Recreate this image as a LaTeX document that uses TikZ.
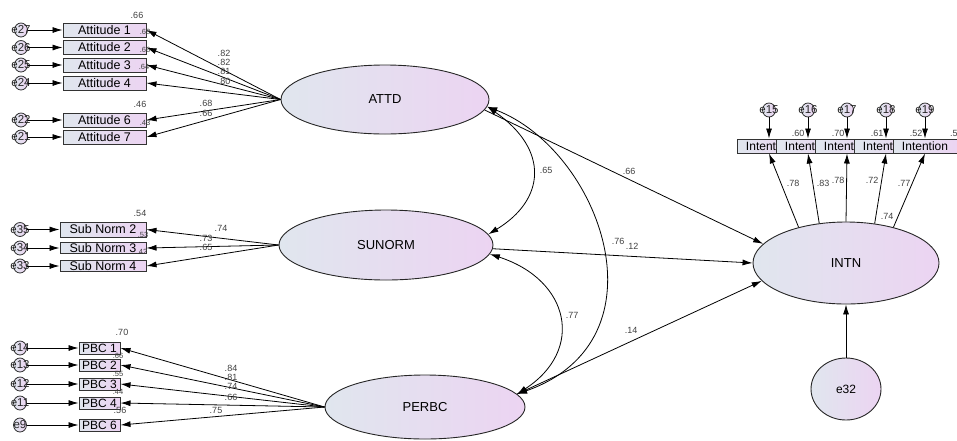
\documentclass[tikz,border=0pt]{standalone}
\usepackage{fontspec}
\setmainfont{Liberation Sans}
\usetikzlibrary{arrows.meta,shapes.geometric}
\definecolor{lc}{RGB}{224,230,238}
\definecolor{rc}{RGB}{236,212,242}
\begin{document}
\begin{tikzpicture}[x=1pt,y=-1pt,
  lat/.style={ellipse,draw=black!85,line width=0.9pt,left color=lc,right color=rc,inner sep=0pt,font=\fontsize{13}{13}\selectfont},
  obs/.style={rectangle,draw=black!80,line width=1pt,left color=lc,right color=rc,inner sep=0pt,font=\fontsize{12.5}{12}\selectfont},
  err/.style={ellipse,draw=black!80,line width=0.8pt,left color=lc,right color=rc,minimum width=13pt,minimum height=14pt,inner sep=0pt},
  etxt/.style={font=\fontsize{11.5}{11}\selectfont,text=black!85,inner sep=0pt},
  num/.style={font=\fontsize{9}{9}\selectfont,text=black!75,inner sep=0pt},
  sm/.style={font=\fontsize{7.5}{7.5}\selectfont,text=black!75,inner sep=0pt},
  arr/.style={line width=0.8pt,-{Latex[length=10pt,width=6pt]}},
  darr/.style={line width=0.8pt,{Latex[length=10pt,width=6pt]}-{Latex[length=10pt,width=6pt]}},
]
\useasboundingbox (0,0) rectangle (957,440);

% latent variables
\node[lat,minimum width=208pt,minimum height=69pt] (ATTD) at (385,99.5) {ATTD};
\node[lat,minimum width=214pt,minimum height=70pt] (SUNORM) at (386,245) {SUNORM};
\node[lat,minimum width=200pt,minimum height=64pt] (PERBC) at (425,407) {PERBC};
\node[lat,minimum width=186pt,minimum height=82pt] (INTN) at (846,263) {INTN};
\node[lat,minimum width=70pt,minimum height=62pt,font=\fontsize{12}{12}\selectfont] (e32) at (846,389) {e32};

% Attitude indicators
\foreach \n/\y/\t/\e in {a1/30/Attitude 1/e27,a2/47.5/Attitude 2/e26,a3/65/Attitude 3/e25,a4/83/Attitude 4/e24,a6/120/Attitude 6/e22,a7/137/Attitude 7/e21}{
  \node[err,label={[etxt]center:\e}] (\e) at (21,\y) {};
  \node[obs,minimum width=83pt,minimum height=14pt] (\n) at (104.5,\y) {\t};
  \draw[arr] (\e) -- (\n);
  \draw[arr] (ATTD.west) -- (\n.east);
}

% Subjective norm indicators
\node[err,label={[etxt]center:e35}] (e35) at (20,229.5) {};
\node[err,label={[etxt]center:e34}] (e34) at (20,248) {};
\node[err,label={[etxt]center:e33}] (e33) at (20,266) {};
\node[obs,minimum width=86pt,minimum height=15pt] (s2) at (103,229.5) {Sub Norm 2};
\node[obs,minimum width=86pt,minimum height=11pt] (s3) at (103,248) {Sub Norm 3};
\node[obs,minimum width=86pt,minimum height=11pt] (s4) at (103,266) {Sub Norm 4};
\foreach \e/\n in {e35/s2,e34/s3,e33/s4}{
  \draw[arr] (\e) -- (\n);
  \draw[arr] (SUNORM.west) -- (\n.east);
}

% PBC indicators
\foreach \n/\y/\t/\e in {p1/348/PBC 1/e14,p2/365/PBC 2/e13,p3/384/PBC 3/e12,p4/403/PBC 4/e11,p6/425/PBC 6/e9}{
  \node[err,label={[etxt]center:\e}] (\e) at (20,\y) {};
  \node[obs,minimum width=41pt,minimum height=12pt,font=\fontsize{12}{12}\selectfont] (\n) at (99.5,\y) {\t};
  \draw[arr] (\e) -- (\n);
  \draw[arr] (PERBC.west) -- (\n.east);
}

% Intention indicators
\foreach \n/\x/\e in {i1/769/e15,i2/808/e16,i3/847/e17,i4/886/e18,i5/925/e19}{
  \node[err,label={[etxt]center:\e}] (\e) at (\x,110) {};
  \node[obs,minimum width=64pt,minimum height=14pt,font=\fontsize{12}{12}\selectfont] (\n) at (\x,146) {Intention};
}
\foreach \n/\e/\a in {i1/e15/143,i2/e16/124,i3/e17/90,i4/e18/54,i5/e19/37}{
  \draw[arr] (\e) -- (\n);
  \draw[arr] (INTN.\a) -- (\n.south);
}
\draw[arr] (e32) -- (INTN);

% structural paths
\draw[arr] (ATTD.-6) -- (INTN.167);
\draw[arr] (SUNORM.-2) -- (INTN.west);
\draw[arr] (PERBC.8) -- (INTN.192);

% covariances
\draw[darr] (ATTD.-4) .. controls (550,150) and (545,200) .. (SUNORM.6);
\draw[darr] (SUNORM.-5) .. controls (570,280) and (585,350) .. (PERBC.8);
\draw[darr] (ATTD.-4) .. controls (600,150) and (670,340) .. (PERBC.8);

% estimates: attitude
\node[num] (r1) at (137,15) {.66};
\node[sm] (r2) at (145,32) {.68};
\node[sm] (r3) at (145,50) {.66};
\node[sm] (r4) at (144,67) {.64};
\node[num] (r6) at (140,104) {.46};
\node[sm] (r7) at (145,123) {.43};
\node[num] (l1) at (224,53) {.82};
\node[num] (l2) at (224,62) {.82};
\node[num] (l3) at (224,71) {.81};
\node[num] (l4) at (224,81) {.80};
\node[num] (l6) at (206,103) {.68};
\node[num] (l7) at (206,113) {.66};
% estimates: subjective norm
\node[num] (rs2) at (140,213) {.54};
\node[sm] (rs3) at (143,235) {.53};
\node[sm] (rs4) at (142,252) {.42};
\node[num] (ls2) at (221,228) {.74};
\node[num] (ls3) at (206,238) {.73};
\node[num] (ls4) at (206,247) {.65};
% estimates: PBC
\node[num] (rp1) at (122,332) {.70};
\node[sm] (rp2) at (118,356) {.66};
\node[sm] (rp3) at (118,374) {.55};
\node[sm] (rp4) at (118,392) {.44};
\node[num] (rp6) at (120,410) {.56};
\node[num] (lp1) at (231,368) {.84};
\node[num] (lp2) at (231,377) {.81};
\node[num] (lp3) at (231,386) {.74};
\node[num] (lp4) at (231,397) {.66};
\node[num] (lp6) at (216,410) {.75};
% estimates: structural
\node[num] (g1) at (629,171) {.66};
\node[num] (c1) at (546,170) {.65};
\node[num] (c3) at (618,241) {.76};
\node[num] (g2) at (632,246) {.12};
\node[num] (c2) at (572,315) {.77};
\node[num] (g3) at (631,330) {.14};
% estimates: intention
\node[num] (ri2) at (798,133) {.60};
\node[num] (ri3) at (838,133) {.70};
\node[num] (ri4) at (877,133) {.61};
\node[num] (ri5) at (916,133) {.52};
\node[num,anchor=west] (ri6) at (950,133) {.5};
\node[num] (li1) at (793,183) {.78};
\node[num] (li2) at (823,183) {.83};
\node[num] (li3) at (838,180) {.78};
\node[num] (li4) at (872,180) {.72};
\node[num] (li5) at (904,183) {.77};
\node[num] (li6) at (887,216) {.74};
\end{tikzpicture}
\end{document}
